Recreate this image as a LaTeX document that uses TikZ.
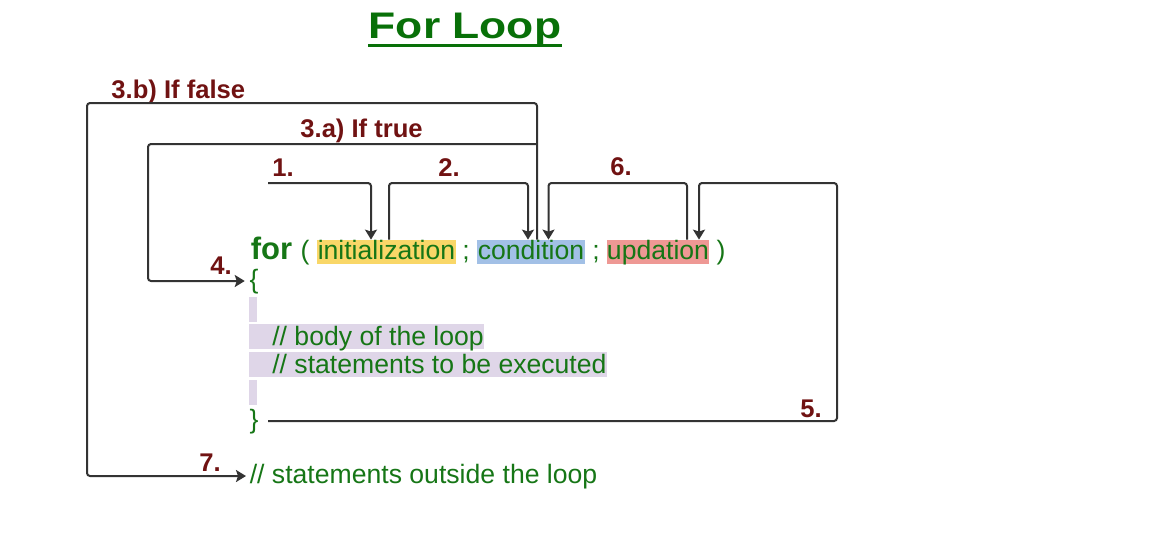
\documentclass[tikz,border=0pt]{standalone}
\usepackage{fontspec}
\setmainfont{Liberation Sans}
\usetikzlibrary{arrows.meta}

\definecolor{codegreen}{RGB}{22,118,22}
\definecolor{titlegreen}{RGB}{8,112,8}
\definecolor{stepred}{RGB}{112,18,18}
\definecolor{initbg}{RGB}{249,215,104}
\definecolor{condbg}{RGB}{162,192,230}
\definecolor{updbg}{RGB}{238,152,148}
\definecolor{bodybg}{RGB}{223,214,232}

\begin{document}
\begin{tikzpicture}[x=0.5pt, y=-0.5pt,
			code/.style={text=codegreen, font=\fontsize{13.3}{15}\selectfont, inner xsep=0.2pt, inner ysep=0pt, text height=9.5pt, text depth=2.5pt, anchor=base},
			hl/.style={code, fill=#1},
			num/.style={text=stepred, font=\fontsize{12.8}{15}\selectfont\bfseries, inner sep=0pt, anchor=base west},
			arrow/.style={-{Stealth[length=5pt, width=6pt, inset=1pt]}, line width=1pt, draw=black!80, rounded corners=1.5pt},
			line/.style={line width=1pt, draw=black!80, rounded corners=1.5pt}]
			
			\useasboundingbox (0,0) rectangle (1165,538);
			
			% 标题
			\node[text=titlegreen, font=\fontsize{18.5}{20}\selectfont\bfseries, inner sep=0pt, anchor=base] (title) at (465,38) {\scalebox{1.2}[1]{For Loop}};
			\draw[titlegreen, line width=1.5pt] ([yshift=-3.5pt]title.base west) -- ([yshift=-3.5pt]title.base east);
			
			% 循环体底色
			\fill[bodybg] (249,297) rectangle (257,322);
			\fill[bodybg] (249,324) rectangle (484,349);
			\fill[bodybg] (249,352) rectangle (607,377);
			\fill[bodybg] (249,380) rectangle (257,405);
			
			% 代码
			\node[code, font=\fontsize{15.5}{17}\selectfont\bfseries] (for) at (271.5,259) {for};
			\node[code] (lpar) at (305,259) {(};
			\node[hl=initbg] (init) at (386.5,259) {initialization};
			\node[code] (semi1) at (466,259) {;};
			\node[hl=condbg] (cond) at (531,259) {condition};
			\node[code] (semi2) at (596,259) {;};
			\node[hl=updbg] (upd) at (658,259) {updation};
			\node[code] (rpar) at (721,259) {)};
			\node[code] (lbrace) at (254,288) {\{};
			\node[code, anchor=base west] (body) at (271.5,345) {// body of the loop};
			\node[code, anchor=base west] (stmts) at (271.5,373) {// statements to be executed};
			\node[code] (rbrace) at (254,428) {\}};
			\node[code, anchor=base west] (outside) at (249,483) {// statements outside the loop};
			
			% 序号
			\node[num] (lbl3b) at (111,98) {3.b) If false};
			\node[num] (lbl3a) at (300,137) {3.a) If true};
			\node[num] (lbl1) at (272,176) {1.};
			\node[num] (lbl2) at (438,176) {2.};
			\node[num] (lbl6) at (610,175) {6.};
			\node[num] (lbl4) at (210,274) {4.};
			\node[num] (lbl5) at (800,417) {5.};
			\node[num] (lbl7) at (199,471) {7.};
			
			% 折点
			\coordinate (s1) at (268,183);
			\coordinate (a1) at ([xshift=-7.75pt]init.north);
			\coordinate (b2) at ([xshift=1.25pt]init.north);
			\coordinate (a2) at ([xshift=-1.5pt]cond.north);
			\coordinate (b3) at ([xshift=3pt]cond.north);
			\coordinate (a6) at ([xshift=8.75pt]cond.north);
			\coordinate (b6) at ([xshift=14.5pt]upd.north);
			\coordinate (a5) at ([xshift=20.5pt]upd.north);
			\coordinate (b5) at ([xshift=4.5pt]rbrace.east);
			\coordinate (c3b) at (87,103);
			\coordinate (c3a) at (148,144);
			\coordinate (c5) at (837,183);
			
			% 连线
			\draw[arrow] (s1) -| (a1);
			\draw[arrow] (b2) |- (a2 |- s1) -- (a2);
			\draw[arrow, shorten >=1.5pt] (b3) |- (c3b) |- (outside.west);
			\draw[arrow, shorten >=2pt] (b3 |- c3a) -- (c3a) |- (lbrace.west);
			\draw[arrow] (b6) |- (a6 |- s1) -- (a6);
			\draw[arrow] (b5) -| (c5) -| (a5);
			
		\end{tikzpicture}
\end{document}
